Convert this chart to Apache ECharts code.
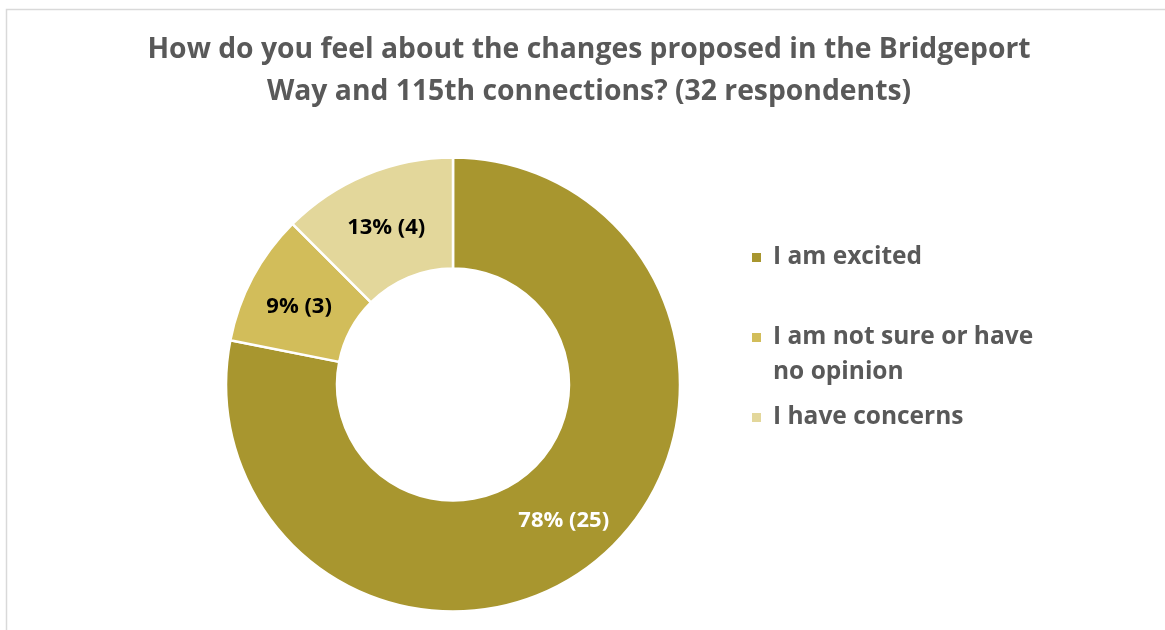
<!DOCTYPE html>
<html>
<head>
<meta charset="utf-8">
<script src="https://cdn.jsdelivr.net/npm/echarts@6/dist/echarts.min.js"></script>
<style>
  html, body { margin: 0; padding: 0; background: #ffffff; }
  #chart { width: 1165px; height: 630px; }
</style>
</head>
<body>
<div id="chart"></div>
<script>
// Survey responses: Bridgeport Way and 115th connections
const titleLines = [
  'How do you feel about the changes proposed in the Bridgeport',
  'Way and 115th connections? (32 respondents)'
];
const categories = ['I am excited', 'I am not sure or have no opinion', 'I have concerns'];
// Legend wording; the wrapped entry starts with an empty line so its marker sits beside the first line
const legendLabels = ['I am excited', '\nI am not sure or have\nno opinion', 'I have concerns'];
const counts = [25, 3, 4];
const sliceColors = ['#A8962F', '#D2BD5A', '#E3D79B'];
const labelColors = ['#ffffff', '#000000', '#000000'];

const FONT = '"Open Sans", Lato, sans-serif';
const TEXT_GREY = '#595959';
const total = counts.reduce((a, b) => a + b, 0);

const chart = echarts.init(document.getElementById('chart'), null, { renderer: 'canvas' });

const pieData = categories.map((name, i) => ({
  name: name,
  value: counts[i],
  itemStyle: { color: sliceColors[i] },
  label: { color: labelColors[i], offset: i === 0 ? [0, 1] : [0, 4] }
}));

chart.setOption({
  backgroundColor: '#ffffff',
  animation: false,
  graphic: [{
    type: 'rect',
    silent: true,
    shape: { x: 6.5, y: 9.5, width: 1200, height: 700 },
    style: { fill: 'none', stroke: '#d9d9d9', lineWidth: 1.5 }
  }],
  title: {
    text: titleLines.join('\n'),
    left: 589,
    textAlign: 'center',
    top: 29,
    padding: 0,
    textStyle: {
      fontFamily: FONT,
      fontWeight: 'bold',
      fontSize: 28.3,
      lineHeight: 42,
      color: TEXT_GREY
    }
  },
  legend: {
    orient: 'vertical',
    left: 750,
    top: 240,
    padding: 0,
    itemWidth: 11,
    itemHeight: 11,
    itemGap: 10,
    icon: 'rect',
    selectedMode: false,
    data: categories,
    formatter: name => legendLabels[categories.indexOf(name)],
    textStyle: {
      fontFamily: FONT,
      fontWeight: 'bold',
      fontSize: 24.5,
      lineHeight: 35,
      padding: [0, 0, 0, 6],
      color: TEXT_GREY
    }
  },
  series: [{
    type: 'pie',
    center: [453, 384.5],
    radius: [116, 227],
    startAngle: 90,
    clockwise: true,
    avoidLabelOverlap: false,
    data: pieData,
    itemStyle: { borderColor: '#ffffff', borderWidth: 2.5 },
    label: {
      show: true,
      position: 'inside',
      fontFamily: FONT,
      fontWeight: 'bold',
      fontSize: 22,
      formatter: p => Math.round(p.value / total * 100) + '% (' + p.value + ')'
    },
    labelLine: { show: false },
    emphasis: { disabled: true }
  }]
});
</script>
</body>
</html>
